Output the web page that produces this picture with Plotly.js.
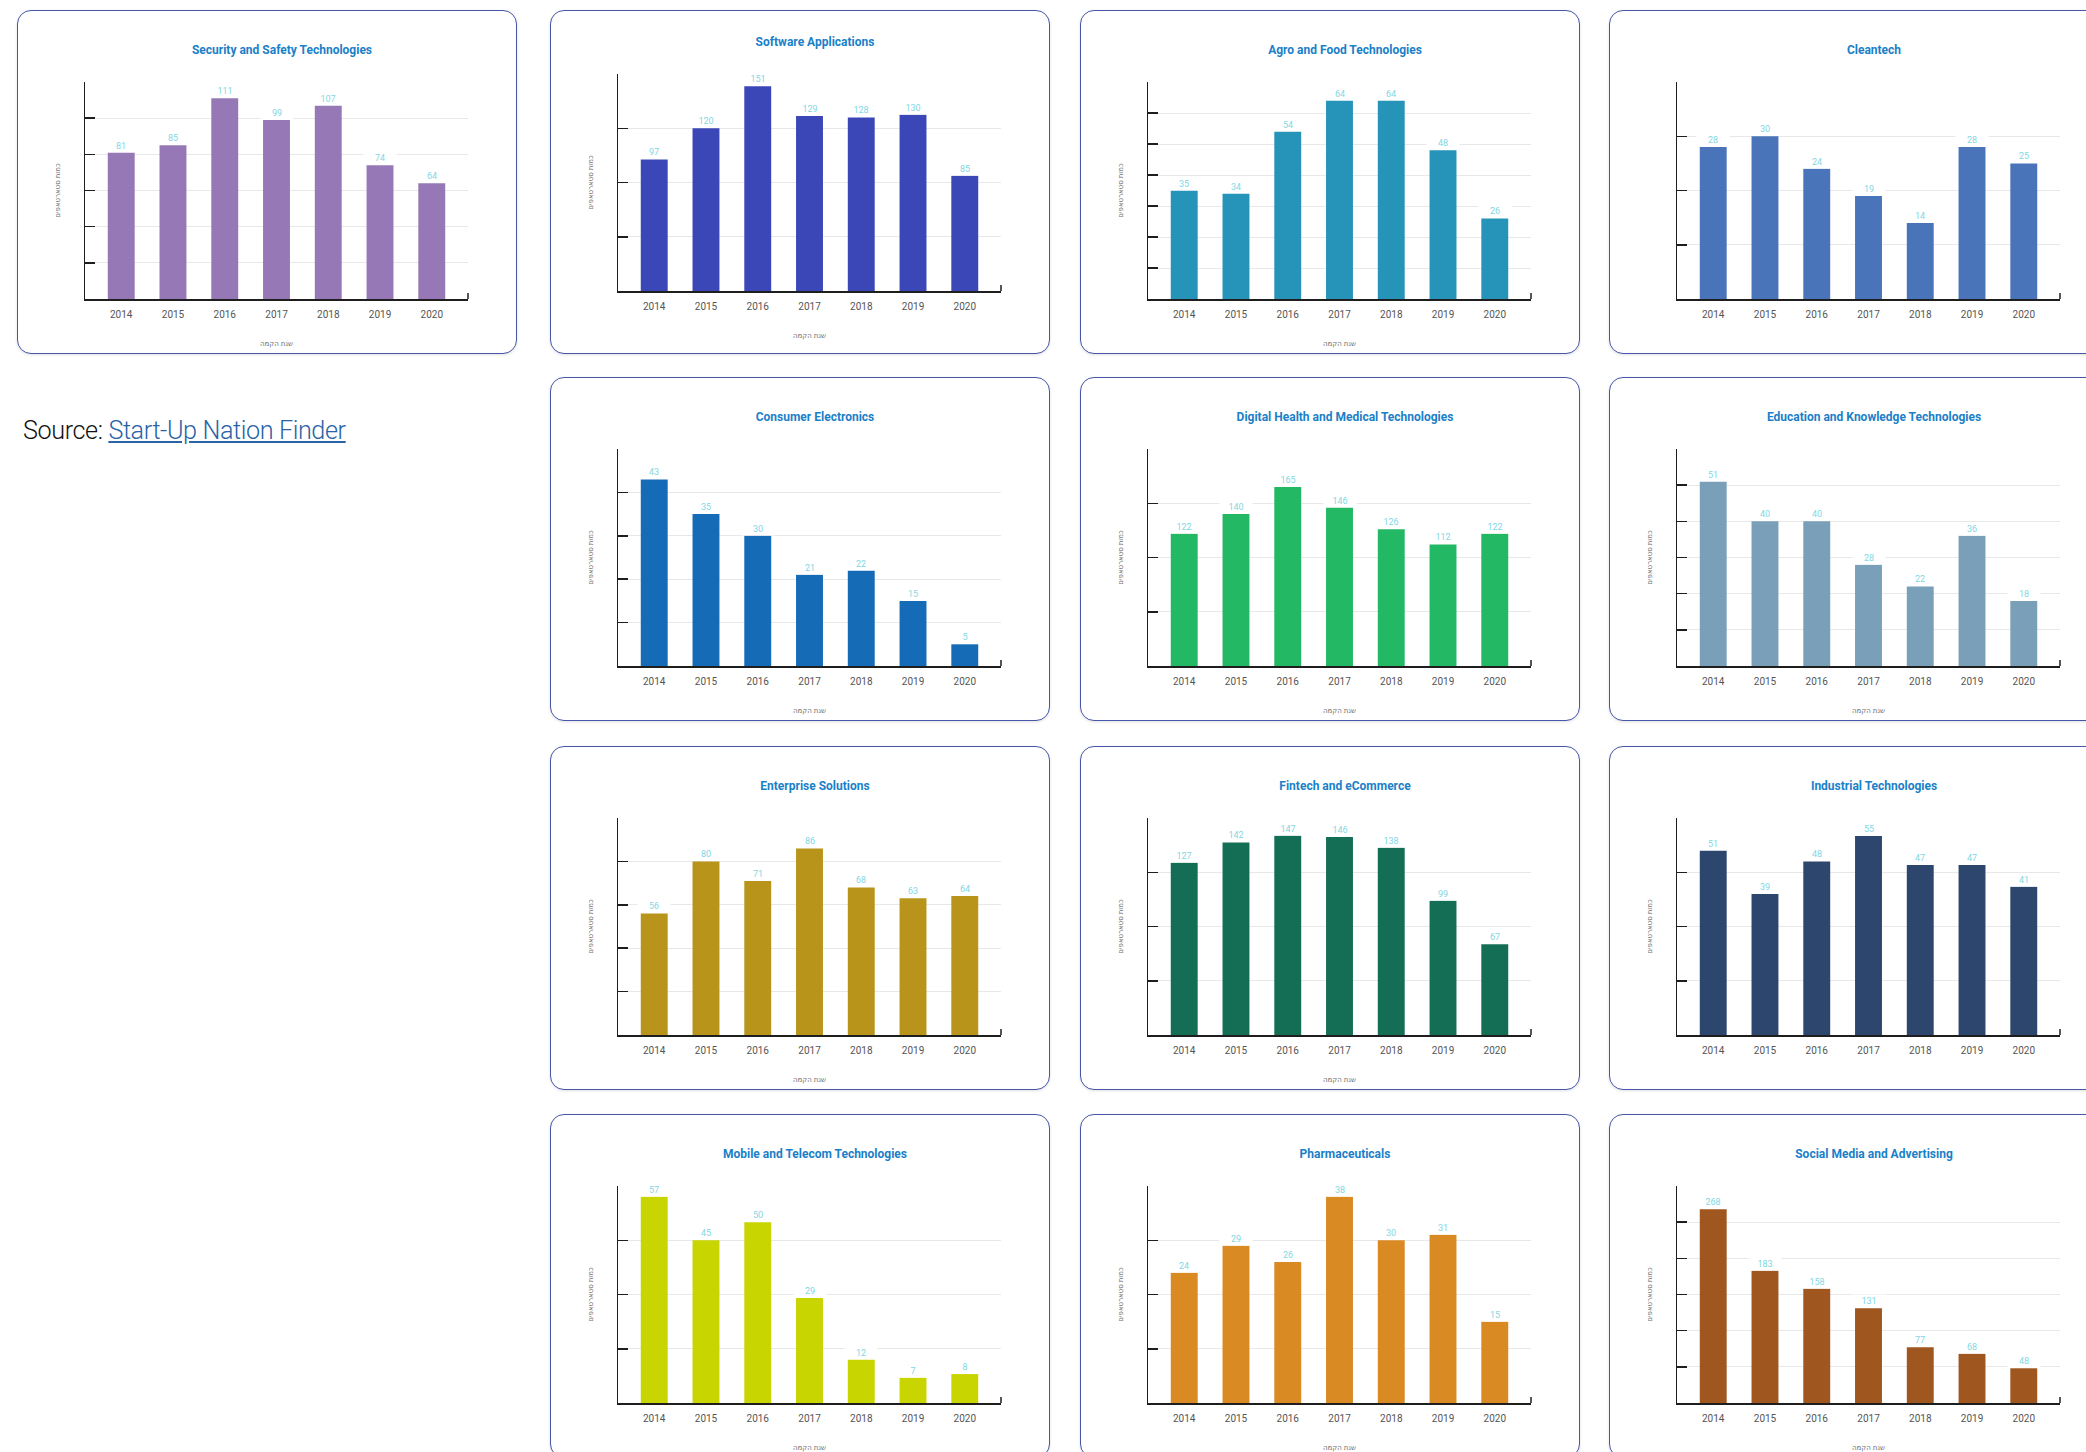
<!DOCTYPE html>
<html>
<head>
<meta charset="utf-8">
<script src="https://cdn.plot.ly/plotly-3.0.1.min.js"></script>
<style>
  html, body { margin: 0; padding: 0; background: #ffffff; }
  body { width: 2086px; height: 1452px; overflow: hidden; position: relative; }
  .card {
    position: absolute;
    box-sizing: border-box;
    border: 1.5px solid #4656a8;
    border-radius: 14px;
    background: #ffffff;
    box-shadow: 0 1px 3px rgba(0,0,0,0.12);
    overflow: hidden;
  }
  .card .plot { position: absolute; left: 0; top: 0; }
  #source {
    position: absolute; left: 23px; top: 416px;
    font-family: Roboto, "Liberation Sans", sans-serif; font-weight: 300;
    font-size: 25.2px; line-height: 30px; color: #111; letter-spacing: -0.4px;
  }
  #source a { color: #2a63a6; text-decoration: underline; }
</style>
</head>
<body>
<div id="source">Source: <a href="#">Start-Up Nation Finder</a></div>
<script>
// ---------- data ----------
const years = ['2014', '2015', '2016', '2017', '2018', '2019', '2020'];

const chartTitles = [
  'Security and Safety Technologies', 'Software Applications', 'Agro and Food Technologies', 'Cleantech',
  'Consumer Electronics', 'Digital Health and Medical Technologies', 'Education and Knowledge Technologies',
  'Enterprise Solutions', 'Fintech and eCommerce', 'Industrial Technologies',
  'Mobile and Telecom Technologies', 'Pharmaceuticals', 'Social Media and Advertising'
];

const securityValues   = [81, 85, 111, 99, 107, 74, 64];
const softwareValues   = [97, 120, 151, 129, 128, 130, 85];
const agroValues       = [35, 34, 54, 64, 64, 48, 26];
const cleantechValues  = [28, 30, 24, 19, 14, 28, 25];
const consumerValues   = [43, 35, 30, 21, 22, 15, 5];
const healthValues     = [122, 140, 165, 146, 126, 112, 122];
const educationValues  = [51, 40, 40, 28, 22, 36, 18];
const enterpriseValues = [56, 80, 71, 86, 68, 63, 64];
const fintechValues    = [127, 142, 147, 146, 138, 99, 67];
const industrialValues = [51, 39, 48, 55, 47, 47, 41];
const mobileValues     = [57, 45, 50, 29, 12, 7, 8];
const pharmaValues     = [24, 29, 26, 38, 30, 31, 15];
const socialValues     = [268, 183, 158, 131, 77, 68, 48];

// y-axis scale (max, step) per chart
const yAxisMax  = [120, 160, 70, 40, 50, 200, 60, 100, 160, 60, 60, 40, 300];
const yAxisStep = [20, 40, 10, 10, 10, 50, 10, 20, 40, 15, 15, 10, 50];

const yTitleText = 'כמות סטארטאפים';
const xTitleText = 'שנת הקמה';

// ---------- styling / placement ----------
const seriesValues = [securityValues, softwareValues, agroValues, cleantechValues,
  consumerValues, healthValues, educationValues, enterpriseValues, fintechValues,
  industrialValues, mobileValues, pharmaValues, socialValues];
const barColors = ['#9678b6', '#3b47b7', '#2694b8', '#4a74b9', '#166bb7', '#23b863', '#79a0b8',
  '#b8941b', '#146e55', '#2c466e', '#c8d501', '#d98a23', '#a0561f'];
const colX = [17, 550, 1080, 1609];
const rowY = [10, 377, 746, 1114];
const cardW = 500;
const cardH = 344;
// [col, row] for each chart
const cells = [[0,0],[1,0],[2,0],[3,0],[1,1],[2,1],[3,1],[1,2],[2,2],[3,2],[1,3],[2,3],[3,3]];
const showXTitle = [true, true, true, false, true, true, true, true, true, false, true, true, true];
const showYTitle = [true, true, true, false, true, true, true, true, true, true, true, true, true];

const FONT = 'Roboto, "Liberation Sans", sans-serif';
const HFONT = '"Noto Sans", "DejaVu Sans", sans-serif';

cells.forEach(function (cell, i) {
  const col = cell[0], row = cell[1];
  const w = cardW;
  const card = document.createElement('div');
  card.className = 'card';
  card.style.left = colX[col] + 'px';
  card.style.top = rowY[row] + 'px';
  card.style.width = w + 'px';
  card.style.height = cardH + 'px';
  const pd = document.createElement('div');
  pd.className = 'plot';
  card.appendChild(pd);
  document.body.appendChild(card);

  const shiftUp = (i === 1) ? 8 : 0;
  const mTop = 72 - shiftUp;
  const mBot = cardH - (290 - shiftUp);
  const mLeft = 68;
  const mRight = w - 452;
  const vals = seriesValues[i];

  const annotations = years.map(function (yr, k) {
    return {
      x: k, y: vals[k], xref: 'x', yref: 'y',
      text: String(vals[k]), showarrow: false,
      yanchor: 'bottom', xanchor: 'center', yshift: 0,
      bgcolor: '#ffffff', borderpad: 1, width: 30,
      font: { family: FONT, size: 9, color: '#7fd7e3' }
    };
  });

  const layout = {
    width: w - 3, height: cardH - 3,
    margin: { l: mLeft - 1.5, r: mRight - 1.5, t: mTop - 1.5, b: mBot - 1.5, pad: 0 },
    paper_bgcolor: 'rgba(0,0,0,0)', plot_bgcolor: 'rgba(0,0,0,0)',
    showlegend: false,
    bargap: 0.48,
    title: {
      text: chartTitles[i],
      font: { family: FONT, size: 12, color: '#1a80c8', weight: 'bold' },
      xref: 'container', yref: 'container',
      x: 264 / (w - 3), xanchor: 'center',
      y: 1 - (40 - shiftUp - 1.5) / (cardH - 3), yanchor: 'middle'
    },
    xaxis: {
      type: 'category',
      range: [-0.7, 6.7],
      showline: true, linecolor: '#1e1e1e', linewidth: 1.5,
      ticks: 'outside', ticklen: 5, tickcolor: 'rgba(0,0,0,0)',
      tickfont: { family: FONT, size: 10, color: '#555555' },
      showgrid: false, zeroline: false, fixedrange: true,
      title: showXTitle[i] ? {
        text: xTitleText, standoff: 22,
        font: { family: HFONT, size: 7, color: '#707070' }
      } : { text: '' },
      automargin: false
    },
    yaxis: {
      range: [0, yAxisMax[i]],
      tickmode: 'linear', tick0: 0, dtick: yAxisStep[i],
      showticklabels: false,
      ticks: 'inside', ticklen: 10, tickwidth: 1.5, tickcolor: '#1e1e1e',
      showline: true, linecolor: '#1e1e1e', linewidth: 1.5,
      showgrid: true, gridcolor: '#e8e8e8', gridwidth: 1,
      zeroline: false, fixedrange: true,
      title: showYTitle[i] ? {
        text: yTitleText, standoff: 22,
        font: { family: HFONT, size: 7, color: '#707070' }
      } : { text: '' },
      automargin: false
    },
    annotations: annotations,
    shapes: [{
      type: 'line', xref: 'paper', yref: 'paper',
      x0: 1, x1: 1, y0: 0, y1: 0.028,
      line: { color: '#1e1e1e', width: 1.5 }
    }]
  };

  const trace = {
    type: 'bar',
    x: years,
    y: vals,
    marker: { color: barColors[i], line: { width: 0 } },
    hoverinfo: 'none'
  };

  Plotly.newPlot(pd, [trace], layout, { staticPlot: true, displayModeBar: false });
});
</script>
</body>
</html>
